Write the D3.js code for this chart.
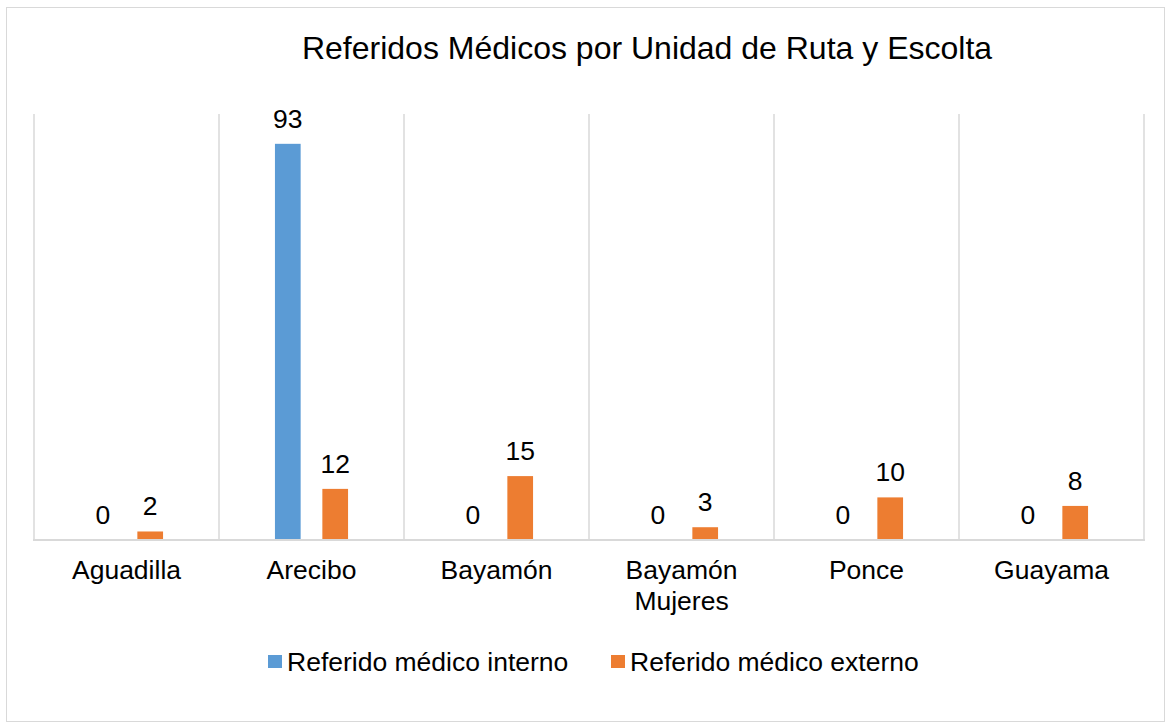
<!DOCTYPE html>
<html>
<head>
<meta charset="utf-8">
<script src="https://cdn.jsdelivr.net/npm/d3@7"></script>
<style>
  body { margin: 0; background: #fff; }
  text { font-family: "Liberation Sans", Arial, sans-serif; fill: #000; }
</style>
</head>
<body>
<div id="chart"></div>
<script>
const categories = ["Aguadilla", "Arecibo", "Bayamón", "Bayamón Mujeres", "Ponce", "Guayama"];
const seriesNames = ["Referido médico interno", "Referido médico externo"];
const interno = [0, 93, 0, 0, 0, 0];
const externo = [2, 12, 15, 3, 10, 8];
const colors = ["#5B9BD5", "#ED7D31"];

const W = 1166, H = 724;
const plot = {left: 34, right: 1144, top: 114, bottom: 540};

const svg = d3.select("#chart").append("svg")
  .attr("width", W)
  .attr("height", H);

// outer frame
svg.append("rect")
  .attr("x", 6.5).attr("y", 7.5)
  .attr("width", 1158).attr("height", 714)
  .attr("fill", "none")
  .attr("stroke", "#d9d9d9");

const data = categories.map((c, i) => ({cat: c, values: [interno[i], externo[i]]}));

const x0 = d3.scaleBand()
  .domain(categories)
  .range([plot.left, plot.right]);

const x1 = d3.scaleBand()
  .domain([0, 1])
  .range([0, x0.bandwidth()])
  .paddingInner(0.458)
  .paddingOuter(1.18);

const y = d3.scaleLinear()
  .domain([0, 100])
  .range([plot.bottom, plot.top]);

// vertical gridlines at category boundaries
const bounds = categories.map(c => x0(c)).concat([plot.right]);
svg.append("g")
  .selectAll("line")
  .data(bounds)
  .enter().append("line")
  .attr("x1", d => d).attr("x2", d => d)
  .attr("y1", plot.top).attr("y2", plot.bottom)
  .attr("stroke", "#d9d9d9")
  .attr("stroke-width", 1.5);

// bars
const groups = svg.append("g")
  .selectAll("g")
  .data(data)
  .enter().append("g")
  .attr("transform", d => `translate(${x0(d.cat)},0)`);

groups.selectAll("rect")
  .data(d => d.values.map((v, k) => ({k, v})))
  .enter().append("rect")
  .attr("x", d => x1(d.k))
  .attr("y", d => y(d.v))
  .attr("width", x1.bandwidth())
  .attr("height", d => y(0) - y(d.v))
  .attr("fill", d => colors[d.k]);

groups.selectAll("text")
  .data(d => d.values.map((v, k) => ({k, v})))
  .enter().append("text")
  .attr("x", d => x1(d.k) + x1.bandwidth() / 2)
  .attr("y", d => y(d.v) - 16)
  .attr("text-anchor", "middle")
  .style("font-size", "26.5px")
  .text(d => d.v);

// x axis
const xAxis = svg.append("g")
  .attr("transform", `translate(0,${plot.bottom})`)
  .call(d3.axisBottom(x0).tickSize(0).tickPadding(0));
xAxis.select(".domain")
  .attr("stroke", "#d9d9d9")
  .attr("stroke-width", 2)
  .attr("d", `M${plot.left - 1},0H${plot.right + 1}`);
xAxis.selectAll("text")
  .style("font-size", "26.5px")
  .attr("fill", "#000")
  .attr("dy", null)
  .attr("y", 39)
  .each(function(d) {
    const t = d3.select(this);
    if (this.getComputedTextLength() > x0.bandwidth() - 10) {
      const words = d.split(" ");
      t.text(null);
      words.forEach((w, i) => {
        t.append("tspan").attr("x", 0).attr("dy", i === 0 ? 0 : 31).text(w);
      });
    }
  });

// title
svg.append("text")
  .attr("x", 647)
  .attr("y", 59)
  .attr("text-anchor", "middle")
  .style("font-size", "32px")
  .text("Referidos Médicos por Unidad de Ruta y Escolta");

// legend
const legendX = [268, 611];
const legend = svg.append("g")
  .selectAll("g")
  .data(seriesNames)
  .enter().append("g")
  .attr("transform", (d, i) => `translate(${legendX[i]},655)`);
legend.append("rect")
  .attr("width", 14).attr("height", 13)
  .attr("fill", (d, i) => colors[i]);
legend.append("text")
  .attr("x", 19)
  .attr("y", 16)
  .style("font-size", "26.5px")
  .text(d => d);
</script>
</body>
</html>
